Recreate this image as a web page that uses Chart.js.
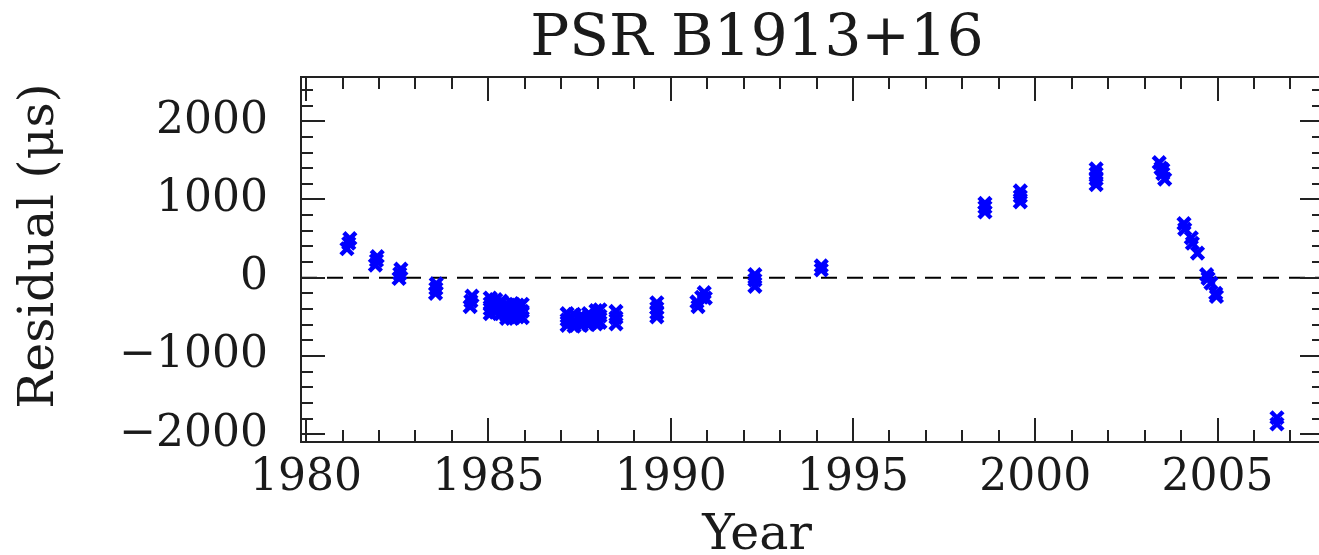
<!DOCTYPE html>
<html>
<head>
<meta charset="utf-8">
<title>PSR B1913+16</title>
<script src="https://cdn.jsdelivr.net/npm/chart.js@4"></script>
<style>
  html, body { margin: 0; padding: 0; background: #fff; overflow: hidden; }
  canvas { display: block; }
</style>
</head>
<body>
<!-- wider than the window: the right edge of the frame falls just outside -->
<canvas id="residualChart" width="1337" height="555"></canvas>
<script>
// Timing residuals, one entry per TOA (year, microseconds)
const obsYear = [
  1981.12, 1981.17, 1981.20,
  1981.90, 1981.93, 1981.95,
  1982.55, 1982.57, 1982.60,
  1983.55, 1983.56, 1983.57,
  1984.50, 1984.52, 1984.55,
  1985.05, 1985.05, 1985.05, 1985.05,
  1985.20, 1985.20, 1985.20,
  1985.35, 1985.35, 1985.35,
  1985.50, 1985.50, 1985.50, 1985.50,
  1985.65, 1985.65, 1985.65, 1985.65,
  1985.80, 1985.80, 1985.80,
  1985.93, 1985.93, 1985.93,
  1987.16, 1987.16, 1987.16,
  1987.35, 1987.35, 1987.35,
  1987.55, 1987.55, 1987.55,
  1987.75, 1987.75, 1987.75,
  1987.95, 1987.95, 1987.95,
  1988.06, 1988.06, 1988.06,
  1988.50, 1988.50, 1988.50,
  1989.62, 1989.62, 1989.62, 1989.62,
  1990.72, 1990.75, 1990.85, 1990.92, 1990.95,
  1992.31, 1992.31, 1992.31,
  1994.13, 1994.13,
  1998.62, 1998.62, 1998.62,
  1999.59, 1999.59, 1999.59,
  2001.67, 2001.67, 2001.67, 2001.67,
  2003.40, 2003.45, 2003.50, 2003.55, 2003.50,
  2004.08, 2004.10, 2004.28, 2004.31, 2004.45,
  2004.70, 2004.74, 2004.82, 2004.95, 2004.97,
  2006.63, 2006.63
];
const residual = [
  370, 440, 500,
  160, 220, 270,
  -10, 50, 110,
  -200, -140, -80,
  -370, -300, -235,
  -260, -330, -400, -460,
  -280, -360, -440,
  -300, -380, -460,
  -340, -410, -480, -520,
  -330, -400, -470, -520,
  -350, -420, -500,
  -340, -430, -510,
  -460, -540, -610,
  -470, -550, -620,
  -480, -550, -610,
  -460, -530, -600,
  -420, -500, -590,
  -410, -490, -570,
  -430, -510, -590,
  -320, -390, -450, -500,
  -310, -370, -250, -190, -260,
  40, -30, -110,
  100, 150,
  840, 900, 950,
  970, 1040, 1110,
  1190, 1260, 1330, 1390,
  1470, 1400, 1330, 1260, 1380,
  690, 620, 510, 440, 315,
  40, -10, -70, -200, -240,
  -1790, -1870
];

// Labelled tick values
const yearTicks = [1980, 1985, 1990, 1995, 2000, 2005];
const residualTicks = [-2000, -1000, 0, 1000, 2000];

const xMin = 1979.86, xMax = 2007.92;
const yMin = -2100, yMax = 2565;

const serif = '"DejaVu Serif", "Liberation Serif", serif';
const ink = '#1a1a1a';

// Box frame with inward major/minor ticks on all four sides
const frameTicks = {
  id: 'frameTicks',
  afterDraw(chart) {
    const { ctx, chartArea: a, scales: { x, y } } = chart;
    ctx.save();
    ctx.strokeStyle = '#222';
    ctx.lineWidth = 2;
    ctx.strokeRect(a.left, a.top, a.right - a.left, a.bottom - a.top);
    ctx.beginPath();
    for (let yr = Math.ceil(xMin); yr <= xMax; yr++) {
      const px = Math.round(x.getPixelForValue(yr));
      const len = yr % 5 === 0 ? 24 : 12;
      ctx.moveTo(px, a.bottom); ctx.lineTo(px, a.bottom - len);
      ctx.moveTo(px, a.top); ctx.lineTo(px, a.top + len);
    }
    for (let v = Math.ceil(yMin / 200) * 200; v <= yMax; v += 200) {
      const py = Math.round(y.getPixelForValue(v));
      const len = v % 1000 === 0 ? 24 : 12;
      ctx.moveTo(a.left, py); ctx.lineTo(a.left + len, py);
      ctx.moveTo(a.right, py); ctx.lineTo(a.right - len, py);
    }
    ctx.stroke();
    ctx.restore();
  }
};

// Title and axis captions
const captions = {
  id: 'captions',
  afterDraw(chart) {
    const { ctx } = chart;
    ctx.save();
    ctx.fillStyle = ink;
    ctx.textAlign = 'center';
    ctx.textBaseline = 'alphabetic';
    ctx.font = '58px ' + serif;
    ctx.fillText('PSR B1913+16', 757, 55);
    ctx.font = '49px ' + serif;
    ctx.fillText('Year', 757, 549);
    ctx.translate(53, 246);
    ctx.rotate(-Math.PI / 2);
    ctx.fillText('Residual (\u03bcs)', 0, 0);
    ctx.restore();
  }
};

function createResidualChart() {
  const ctx = document.getElementById('residualChart').getContext('2d');

  const points = obsYear.map((yr, i) => ({ x: yr, y: residual[i] }));

  return new Chart(ctx, {
    data: {
      datasets: [
        {
          type: 'scatter',
          data: points,
          pointStyle: 'crossRot',
          pointRadius: 8.5,
          pointBorderWidth: 4.5,
          borderColor: '#0000ff',
          backgroundColor: '#0000ff',
          order: 1
        },
        {
          type: 'line',
          data: [{ x: xMin, y: 0 }, { x: xMax, y: 0 }],
          borderColor: '#000',
          borderWidth: 2,
          borderDash: [16, 10],
          pointRadius: 0,
          order: 2
        }
      ]
    },
    options: {
      responsive: false,
      animation: false,
      // the marker overflow (13px) keeps the right edge at 1324
      layout: { padding: { top: 77, right: 0, left: 0, bottom: 0 } },
      plugins: {
        legend: { display: false },
        tooltip: { enabled: false }
      },
      scales: {
        x: {
          type: 'linear',
          min: xMin,
          max: xMax,
          grid: { display: false, drawTicks: false },
          border: { display: false },
          afterBuildTicks: s => { s.ticks = yearTicks.map(v => ({ value: v })); },
          afterFit: s => { s.height = 113; s.paddingLeft = 0; s.paddingRight = 0; },
          ticks: {
            color: ink,
            padding: 10,
            font: { family: serif, size: 44 },
            callback: v => String(v)
          }
        },
        y: {
          type: 'linear',
          min: yMin,
          max: yMax,
          grid: { display: false, drawTicks: false },
          border: { display: false },
          afterBuildTicks: s => { s.ticks = residualTicks.map(v => ({ value: v })); },
          afterFit: s => { s.width = 301; s.paddingTop = 0; s.paddingBottom = 0; },
          ticks: {
            color: ink,
            padding: 33,
            font: { family: serif, size: 44 },
            callback: v => (v < 0 ? '\u2212' + Math.abs(v) : String(v))
          }
        }
      }
    },
    plugins: [frameTicks, captions]
  });
}

createResidualChart();
</script>
</body>
</html>
